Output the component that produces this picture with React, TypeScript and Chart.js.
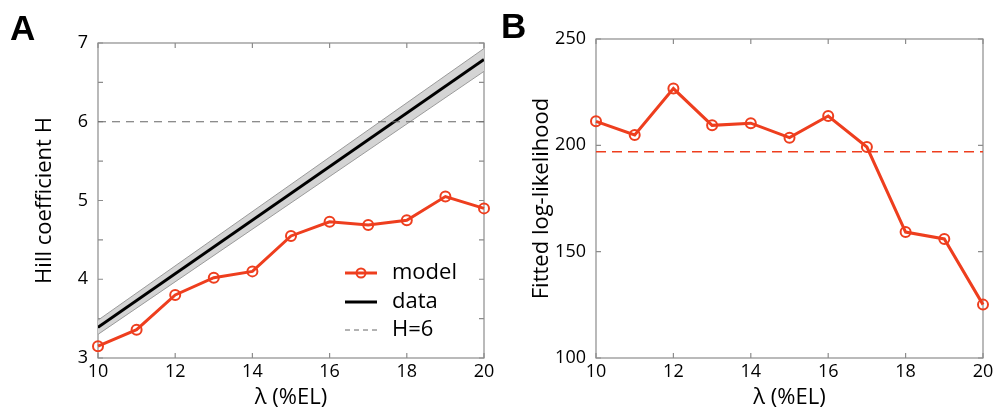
import React, { useEffect, useRef } from 'react';
import { Chart, registerables } from 'chart.js';
Chart.register(...registerables);

const lambdaValues = [10, 11, 12, 13, 14, 15, 16, 17, 18, 19, 20];
const modelHill = [3.15, 3.36, 3.8, 4.02, 4.1, 4.55, 4.73, 4.69, 4.75, 5.05, 4.9];
const dataLambda = [10, 20];
const dataHill = [3.39, 6.79];
const dataHillUpper = [3.48, 6.93];
const dataHillLower = [3.3, 6.64];
const hThreshold = 6;
const logLik = [211.3, 204.9, 226.7, 209.4, 210.4, 203.6, 213.8, 199.2, 159.2, 156.0, 125.1];
const logLikThreshold = 197;
const legendLabels = ['model', 'data', 'H=6'];

const RED = 'rgb(238,62,30)';
const AXIS = '#8c8c8c';
const FONT = "'Open Sans', Lato, sans-serif";

const frameAndTicks = {
  id: 'frameAndTicks',
  beforeDatasetsDraw(chart: any) {
    const { ctx, chartArea: a, scales } = chart;
    ctx.save();
    ctx.strokeStyle = AXIS;
    ctx.lineWidth = 1.2;
    ctx.strokeRect(a.left, a.top, a.right - a.left, a.bottom - a.top);
    const L = 5;
    ctx.beginPath();
    scales.x.ticks.forEach((t: any) => {
      const px = scales.x.getPixelForValue(t.value);
      ctx.moveTo(px, a.bottom); ctx.lineTo(px, a.bottom - L);
      ctx.moveTo(px, a.top); ctx.lineTo(px, a.top + L);
    });
    scales.y.ticks.forEach((t: any) => {
      const py = scales.y.getPixelForValue(t.value);
      ctx.moveTo(a.left, py); ctx.lineTo(a.left + L, py);
      ctx.moveTo(a.right, py); ctx.lineTo(a.right - L, py);
    });
    ctx.stroke();
    ctx.restore();
  },
  afterDraw(chart: any, _args: any, opts: any) {
    const { ctx } = chart;
    ctx.save();
    ctx.fillStyle = '#000';
    ctx.font = "bold 35px 'Liberation Sans', Arial, sans-serif";
    ctx.textBaseline = 'alphabetic';
    ctx.fillText(opts.letter, opts.letterX, opts.letterY);
    ctx.restore();
  },
};

const legendA = {
  id: 'legendA',
  afterDraw(chart: any) {
    const { ctx, chartArea: a } = chart;
    const x0 = a.right - 139, x1 = a.right - 107, tx = a.right - 92;
    const rows = [a.top + 230, a.top + 259, a.top + 287];
    ctx.save();
    ctx.strokeStyle = RED; ctx.lineWidth = 3;
    ctx.beginPath(); ctx.moveTo(x0, rows[0]); ctx.lineTo(x1, rows[0]); ctx.stroke();
    ctx.lineWidth = 2;
    ctx.beginPath(); ctx.arc((x0 + x1) / 2, rows[0], 4.5, 0, Math.PI * 2); ctx.stroke();
    ctx.strokeStyle = '#000'; ctx.lineWidth = 3;
    ctx.beginPath(); ctx.moveTo(x0, rows[1]); ctx.lineTo(x1, rows[1]); ctx.stroke();
    ctx.strokeStyle = '#666'; ctx.lineWidth = 1; ctx.setLineDash([5, 4]);
    ctx.beginPath(); ctx.moveTo(x0, rows[2]); ctx.lineTo(x1, rows[2]); ctx.stroke();
    ctx.setLineDash([]);
    ctx.fillStyle = '#000';
    ctx.font = `22px ${FONT}`;
    ctx.textBaseline = 'middle';
    legendLabels.forEach((l, i) => ctx.fillText(l, tx, rows[i]));
    ctx.restore();
  },
};

function makeScales(yMin: number, yMax: number, yStep: number, yTitle: string, yWidth: number, integerOnly: boolean) {
  return {
    x: {
      type: 'linear',
      min: 10,
      max: 20,
      grid: { display: false, drawTicks: false },
      border: { display: false },
      ticks: { stepSize: 2, color: '#000', font: { family: FONT, size: 18 }, padding: 3, maxRotation: 0 },
      title: { display: true, text: 'λ (%EL)', color: '#000', font: { family: FONT, size: 22 }, padding: { top: 2, bottom: 0 } },
      afterFit(s: any) { s.height = 53; s.paddingLeft = 0; s.paddingRight = 0; },
    },
    y: {
      type: 'linear',
      min: yMin,
      max: yMax,
      grid: { display: false, drawTicks: false },
      border: { display: false },
      ticks: {
        stepSize: yStep,
        color: '#000',
        font: { family: FONT, size: 18 },
        padding: 10,
        callback: (v: number) => (integerOnly && !Number.isInteger(v) ? '' : String(v)),
      },
      title: { display: true, text: yTitle, color: '#000', font: { family: FONT, size: 22 }, padding: { top: 32, bottom: 0 } },
      afterFit(s: any) { s.width = yWidth; s.paddingTop = 0; s.paddingBottom = 0; },
    },
  };
}

function PanelA() {
  const ref = useRef<HTMLCanvasElement>(null);
  useEffect(() => {
    const chart = new Chart(ref.current as HTMLCanvasElement, {
      type: 'line',
      data: {
        datasets: [
          {
            label: 'model', data: lambdaValues.map((x, i) => ({ x, y: modelHill[i] })),
            borderColor: RED, borderWidth: 3, pointRadius: 5, pointBorderWidth: 2,
            pointBorderColor: RED, pointBackgroundColor: 'rgba(0,0,0,0)', fill: false, clip: false,
          },
          {
            label: 'H=6', data: [{ x: 10, y: hThreshold }, { x: 20, y: hThreshold }],
            borderColor: '#666', borderWidth: 1, borderDash: [8, 6], pointRadius: 0, fill: false,
          },
          {
            label: 'data', data: dataLambda.map((x, i) => ({ x, y: dataHill[i] })),
            borderColor: '#000', borderWidth: 3, pointRadius: 0, fill: false,
          },
          {
            label: 'lower', data: dataLambda.map((x, i) => ({ x, y: dataHillLower[i] })),
            borderColor: '#9a9a9a', borderWidth: 1, pointRadius: 0, fill: false,
          },
          {
            label: 'upper', data: dataLambda.map((x, i) => ({ x, y: dataHillUpper[i] })),
            borderColor: '#9a9a9a', borderWidth: 1, pointRadius: 0, fill: '-1', backgroundColor: 'rgb(212,212,212)',
          },
        ],
      } as any,
      options: {
        responsive: false,
        animation: false,
        events: [],
        layout: { padding: { left: 0, top: 43, right: 13, bottom: 0 } },
        plugins: {
          legend: { display: false },
          tooltip: { enabled: false },
          frameAndTicks: { letter: 'A', letterX: 10, letterY: 39.5 },
        } as any,
        scales: makeScales(3, 7, 0.5, 'Hill coefficient H', 98, true) as any,
      },
      plugins: [frameAndTicks, legendA],
    });
    return () => chart.destroy();
  }, []);
  return <canvas ref={ref} width={497} height={411} style={{ position: 'absolute', left: 0, top: 0, width: 497, height: 411 }} />;
}

function PanelB() {
  const ref = useRef<HTMLCanvasElement>(null);
  useEffect(() => {
    const chart = new Chart(ref.current as HTMLCanvasElement, {
      type: 'line',
      data: {
        datasets: [
          {
            label: 'model', data: lambdaValues.map((x, i) => ({ x, y: logLik[i] })),
            borderColor: RED, borderWidth: 3, pointRadius: 5, pointBorderWidth: 2,
            pointBorderColor: RED, pointBackgroundColor: 'rgba(0,0,0,0)', fill: false, clip: false,
          },
          {
            label: 'threshold', data: [{ x: 10, y: logLikThreshold }, { x: 20, y: logLikThreshold }],
            borderColor: RED, borderWidth: 1.5, borderDash: [10, 6], pointRadius: 0, fill: false,
          },
        ],
      } as any,
      options: {
        responsive: false,
        animation: false,
        events: [],
        layout: { padding: { left: 0, top: 39, right: 10, bottom: 0 } },
        plugins: {
          legend: { display: false },
          tooltip: { enabled: false },
          frameAndTicks: { letter: 'B', letterX: 4, letterY: 37.5 },
        } as any,
        scales: makeScales(100, 250, 50, 'Fitted log-likelihood', 99, false) as any,
      },
      plugins: [frameAndTicks],
    });
    return () => chart.destroy();
  }, []);
  return <canvas ref={ref} width={496} height={411} style={{ position: 'absolute', left: 497, top: 0, width: 496, height: 411 }} />;
}

export default function App() {
  return (
    <div style={{ position: 'absolute', left: 0, top: 0, width: 993, height: 411, background: '#fff' }}>
      <PanelA />
      <PanelB />
    </div>
  );
}
